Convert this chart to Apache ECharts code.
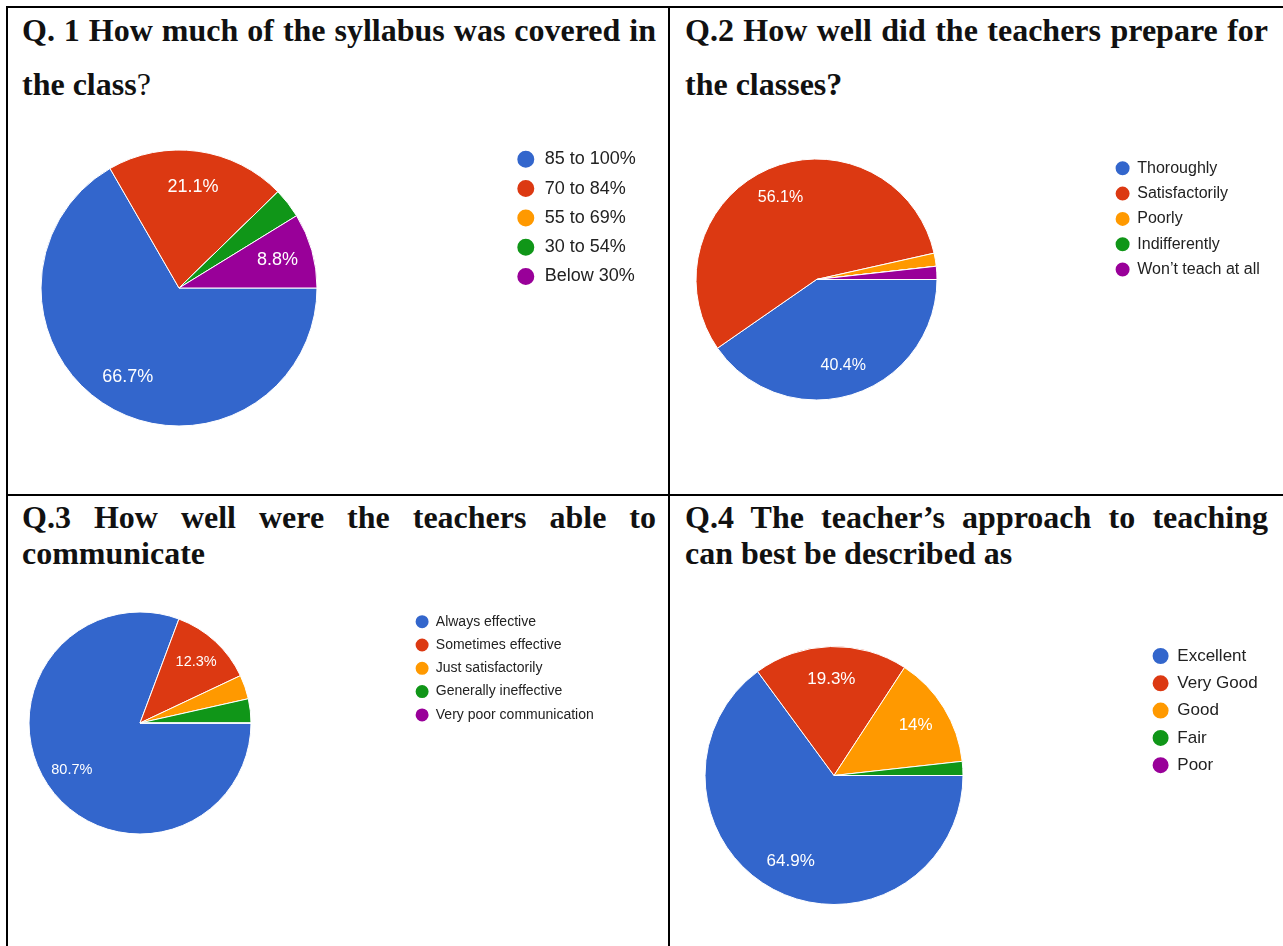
<!DOCTYPE html>
<html>
<head>
<meta charset="utf-8">
<script src="https://cdn.jsdelivr.net/npm/echarts@6/dist/echarts.min.js"></script>
<style>
  html, body { margin: 0; padding: 0; background: #fff; }
  #page { position: relative; width: 1283px; height: 946px; overflow: hidden; }
  .rule { position: absolute; background: #000; }
  .t { position: absolute; font-family: "Liberation Serif", "Times New Roman", serif; font-weight: bold;
       font-size: 32px; line-height: 1; color: #111; white-space: nowrap; }
  .j { text-align: justify; text-align-last: justify; }
  .n { font-weight: normal; }
  #chart { position: absolute; left: 0; top: 0; width: 1283px; height: 946px; }
</style>
</head>
<body>
<div id="page">
  <!-- table rules -->
  <div class="rule" style="left:6px;top:6px;width:1277px;height:2px"></div>
  <div class="rule" style="left:6px;top:6px;width:2px;height:940px"></div>
  <div class="rule" style="left:668px;top:6px;width:2px;height:940px"></div>
  <div class="rule" style="left:6px;top:494px;width:1277px;height:2px"></div>

  <!-- question headings -->
  <div class="t j" style="left:22px;top:14px;width:634px">Q. 1 How much of the syllabus was covered in</div>
  <div class="t" style="left:22px;top:68px">the class<span class="n">?</span></div>
  <div class="t j" style="left:685px;top:14px;width:583px">Q.2 How well did the teachers prepare for</div>
  <div class="t" style="left:685px;top:68px">the classes?</div>
  <div class="t j" style="left:22px;top:501px;width:634px">Q.3 How well were the teachers able to</div>
  <div class="t" style="left:22px;top:537px">communicate</div>
  <div class="t j" style="left:685px;top:501px;width:583px">Q.4 The teacher’s approach to teaching</div>
  <div class="t" style="left:685px;top:537px">can best be described as</div>

  <div id="chart"></div>
</div>
<script>
// Response counts per option (57 responses per question)
const sliceColors = ['#3366cc', '#dc3912', '#ff9900', '#109618', '#990099'];

const q1Options = ['85 to 100%', '70 to 84%', '55 to 69%', '30 to 54%', 'Below 30%'];
const q1Counts  = [38, 12, 0, 2, 5];

const q2Options = ['Thoroughly', 'Satisfactorily', 'Poorly', 'Indifferently', 'Won’t teach at all'];
const q2Counts  = [23, 32, 1, 0, 1];

const q3Options = ['Always effective', 'Sometimes effective', 'Just satisfactorily', 'Generally ineffective', 'Very poor communication'];
const q3Counts  = [46, 7, 2, 2, 0];

const q4Options = ['Excellent', 'Very Good', 'Good', 'Fair', 'Poor'];
const q4Counts  = [37, 11, 8, 1, 0];

// Placement of each pie and its legend
const panels = [
  { names: q1Options, values: q1Counts, cx: 179, cy: 288, r: 138, labelSize: 18,
    legend: { left: 515.3, top: 148.8, w: 28, d: 19, font: 18, gap: 8.3 } },
  { names: q2Options, values: q2Counts, cx: 816.5, cy: 279.5, r: 120.5, labelSize: 16,
    legend: { left: 1113.6, top: 159.3, w: 19.4, d: 16, font: 16, gap: 7.3 } },
  { names: q3Options, values: q3Counts, cx: 140, cy: 723, r: 111, labelSize: 14.5,
    legend: { left: 413.6, top: 613.2, w: 17.4, d: 15, font: 14, gap: 6.3 } },
  { names: q4Options, values: q4Counts, cx: 834, cy: 775.5, r: 129, labelSize: 17,
    legend: { left: 1150.6, top: 646, w: 23.4, d: 18, font: 17, gap: 7.3 } }
];

// share of all responses, one decimal, trailing ".0" dropped
function pctText(v, total) {
  return (Math.round(v / total * 1000) / 10) + '%';
}

const series = [];
const legends = [];

panels.forEach(function (p) {
  const total = p.values.reduce(function (a, b) { return a + b; }, 0);
  const data = p.names.map(function (n, i) {
    return { name: n, value: p.values[i], itemStyle: { color: sliceColors[i] } };
  });
  // the filled pie
  series.push({
    type: 'pie',
    center: [p.cx, p.cy],
    radius: [0, p.r],
    startAngle: 0,
    clockwise: true,
    animation: false,
    silent: true,
    avoidLabelOverlap: false,
    label: { show: false },
    labelLine: { show: false },
    itemStyle: { borderColor: '#fff', borderWidth: 1 },
    emphasis: { disabled: true },
    data: data
  });
  // percentage labels, carried by a transparent ring so they sit toward the rim
  series.push({
    type: 'pie',
    center: [p.cx, p.cy],
    radius: [p.r * 0.44, p.r],
    startAngle: 0,
    clockwise: true,
    animation: false,
    silent: true,
    avoidLabelOverlap: false,
    itemStyle: { color: 'rgba(0,0,0,0)', borderWidth: 0 },
    label: {
      show: true,
      position: 'inside',
      color: '#fff',
      fontFamily: 'Liberation Sans, Arial, sans-serif',
      fontSize: p.labelSize,
      formatter: function (q) { return q.value / total >= 0.05 ? pctText(q.value, total) : ''; }
    },
    labelLine: { show: false },
    emphasis: { disabled: true },
    data: p.names.map(function (n, i) { return { name: n, value: p.values[i] }; })
  });
  legends.push({
    orient: 'vertical',
    left: p.legend.left,
    top: p.legend.top,
    padding: 0,
    icon: 'circle',
    itemWidth: p.legend.w,
    itemHeight: p.legend.d,
    itemGap: p.legend.gap,
    selectedMode: false,
    data: p.names,
    textStyle: {
      color: '#222',
      fontFamily: 'Liberation Sans, Arial, sans-serif',
      fontSize: p.legend.font,
      lineHeight: p.legend.d
    }
  });
});

const chart = echarts.init(document.getElementById('chart'), null, { renderer: 'canvas' });
chart.setOption({
  backgroundColor: 'transparent',
  animation: false,
  legend: legends,
  series: series
});
</script>
</body>
</html>
